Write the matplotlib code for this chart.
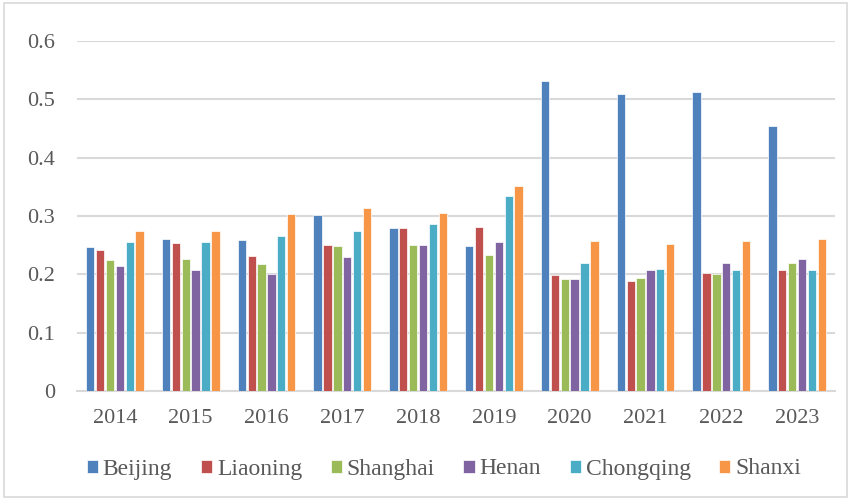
import numpy as np
import matplotlib
matplotlib.use("Agg")
from matplotlib import pyplot as plt
from matplotlib.patches import Rectangle

years = ["2014", "2015", "2016", "2017", "2018", "2019", "2020", "2021", "2022", "2023"]
provinces = ["Beijing", "Liaoning", "Shanghai", "Henan", "Chongqing", "Shanxi"]

beijing   = [0.247, 0.261, 0.259, 0.301, 0.279, 0.248, 0.531, 0.509, 0.513, 0.455]
liaoning  = [0.242, 0.254, 0.231, 0.251, 0.279, 0.282, 0.199, 0.188, 0.202, 0.208]
shanghai  = [0.224, 0.226, 0.217, 0.249, 0.250, 0.233, 0.192, 0.194, 0.201, 0.219]
henan     = [0.214, 0.208, 0.200, 0.229, 0.251, 0.255, 0.192, 0.208, 0.220, 0.226]
chongqing = [0.256, 0.255, 0.266, 0.274, 0.286, 0.335, 0.220, 0.209, 0.208, 0.208]
shanxi    = [0.274, 0.274, 0.303, 0.313, 0.306, 0.351, 0.257, 0.252, 0.257, 0.260]

series = [beijing, liaoning, shanghai, henan, chongqing, shanxi]
colors = ["#4F81BD", "#C0504D", "#9BBB59", "#8064A2", "#4BACC6", "#F79646"]

plt.rcParams["font.family"] = ["Liberation Serif", "DejaVu Serif"]

fig = plt.figure(figsize=(8.51, 4.99), dpi=100)
ax = fig.add_axes([77 / 851, 108 / 499, 758 / 851, 350 / 499])

x = np.arange(len(years))
step = 0.13
w = 0.11
for i, (vals, c) in enumerate(zip(series, colors)):
    ax.bar(x + (i - 2.5) * step, vals, width=w, color=c, edgecolor="white",
           linewidth=0.5, label=provinces[i], zorder=3)

ax.set_xlim(-0.5, len(years) - 0.5)
ax.set_ylim(0, 0.6)
ax.set_yticks(np.arange(0, 0.61, 0.1))
ax.set_yticklabels(["0", "0.1", "0.2", "0.3", "0.4", "0.5", "0.6"])
ax.set_xticks(x)
ax.set_xticklabels(years)
ax.tick_params(axis="both", length=0, labelsize=16, colors="#595959")
ax.tick_params(axis="y", pad=16)
ax.tick_params(axis="x", pad=13)
ax.yaxis.grid(True, color="#D9D9D9", linewidth=1.5, zorder=0)
for s in ["top", "right", "left"]:
    ax.spines[s].set_visible(False)
ax.spines["bottom"].set_color("#D9D9D9")
ax.spines["bottom"].set_linewidth(1.5)

fig.legend(loc="center", bbox_to_anchor=(444 / 851, 1 - 469 / 499), ncol=6,
           frameon=False, fontsize=17, handlelength=0.47, handleheight=0.47,
           handletextpad=0.22, columnspacing=1.2, labelcolor="#595959")

fig.patches.append(Rectangle((4 / 851, 2 / 499), 843 / 851, 494 / 499,
                             transform=fig.transFigure, fill=False,
                             edgecolor="#D9D9D9", linewidth=1.2))

fig.savefig("out.png", dpi=100)
